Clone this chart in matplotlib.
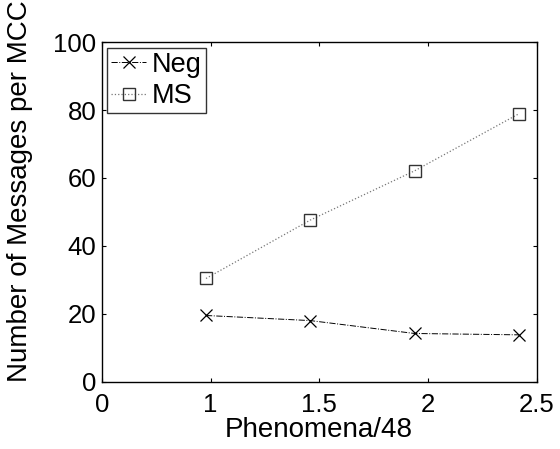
import matplotlib.pyplot as plt

# Phenomena counts normalised by 48
phenomena = [47 / 48, 70 / 48, 93 / 48, 116 / 48]
neg_msgs = [19.5, 18.0, 14.2, 13.8]
ms_msgs = [30.4, 47.6, 62.1, 78.9]

xtick_pos = [0.5, 1.0, 1.5, 2.0, 2.5]
xtick_labels = ["0", "1", "1.5", "2", "2.5"]
ytick_pos = [0, 20, 40, 60, 80, 100]

plt.rcParams["font.family"] = ["Liberation Sans", "DejaVu Sans"]

fig = plt.figure(figsize=(5.6, 4.49), dpi=100)
ax = fig.add_axes([0.1816, 0.1499, 0.7773, 0.7562])

ax.plot(phenomena, neg_msgs, linestyle="-.", color="black", linewidth=0.7,
        marker="x", markersize=8.5, markeredgewidth=0.9, label="Neg")
ax.plot(phenomena, ms_msgs, linestyle=":", color="#777777", linewidth=0.9,
        marker="s", markersize=8.5, markerfacecolor="none",
        markeredgecolor="#333333", markeredgewidth=1.0, label="MS")

ax.set_xlim(0.5, 2.5)
ax.set_ylim(0, 100)
ax.set_xticks(xtick_pos)
ax.set_xticklabels(xtick_labels)
ax.set_yticks(ytick_pos)

ax.tick_params(direction="in", length=3.2, width=0.8, top=True, right=True,
               labelsize=18.5, colors="black")
ax.tick_params(axis="x", pad=8)
ax.tick_params(axis="y", pad=4)
for spine in ax.spines.values():
    spine.set_linewidth(1.0)

ax.set_xlabel("Phenomena/48", fontsize=20)
ax.set_ylabel("Number of Messages per MCC", fontsize=20)
ax.xaxis.set_label_coords(0.499, -0.105)
ax.yaxis.set_label_coords(-0.158, 0.56)

leg = ax.legend(loc="upper left", fontsize=19.5, frameon=True, fancybox=False,
                borderaxespad=0.2, borderpad=0.15, handlelength=1.3,
                handletextpad=0.2, labelspacing=0.2)
leg.get_frame().set_edgecolor("black")
leg.get_frame().set_linewidth(1.0)

fig.savefig("out.png", dpi=100)
